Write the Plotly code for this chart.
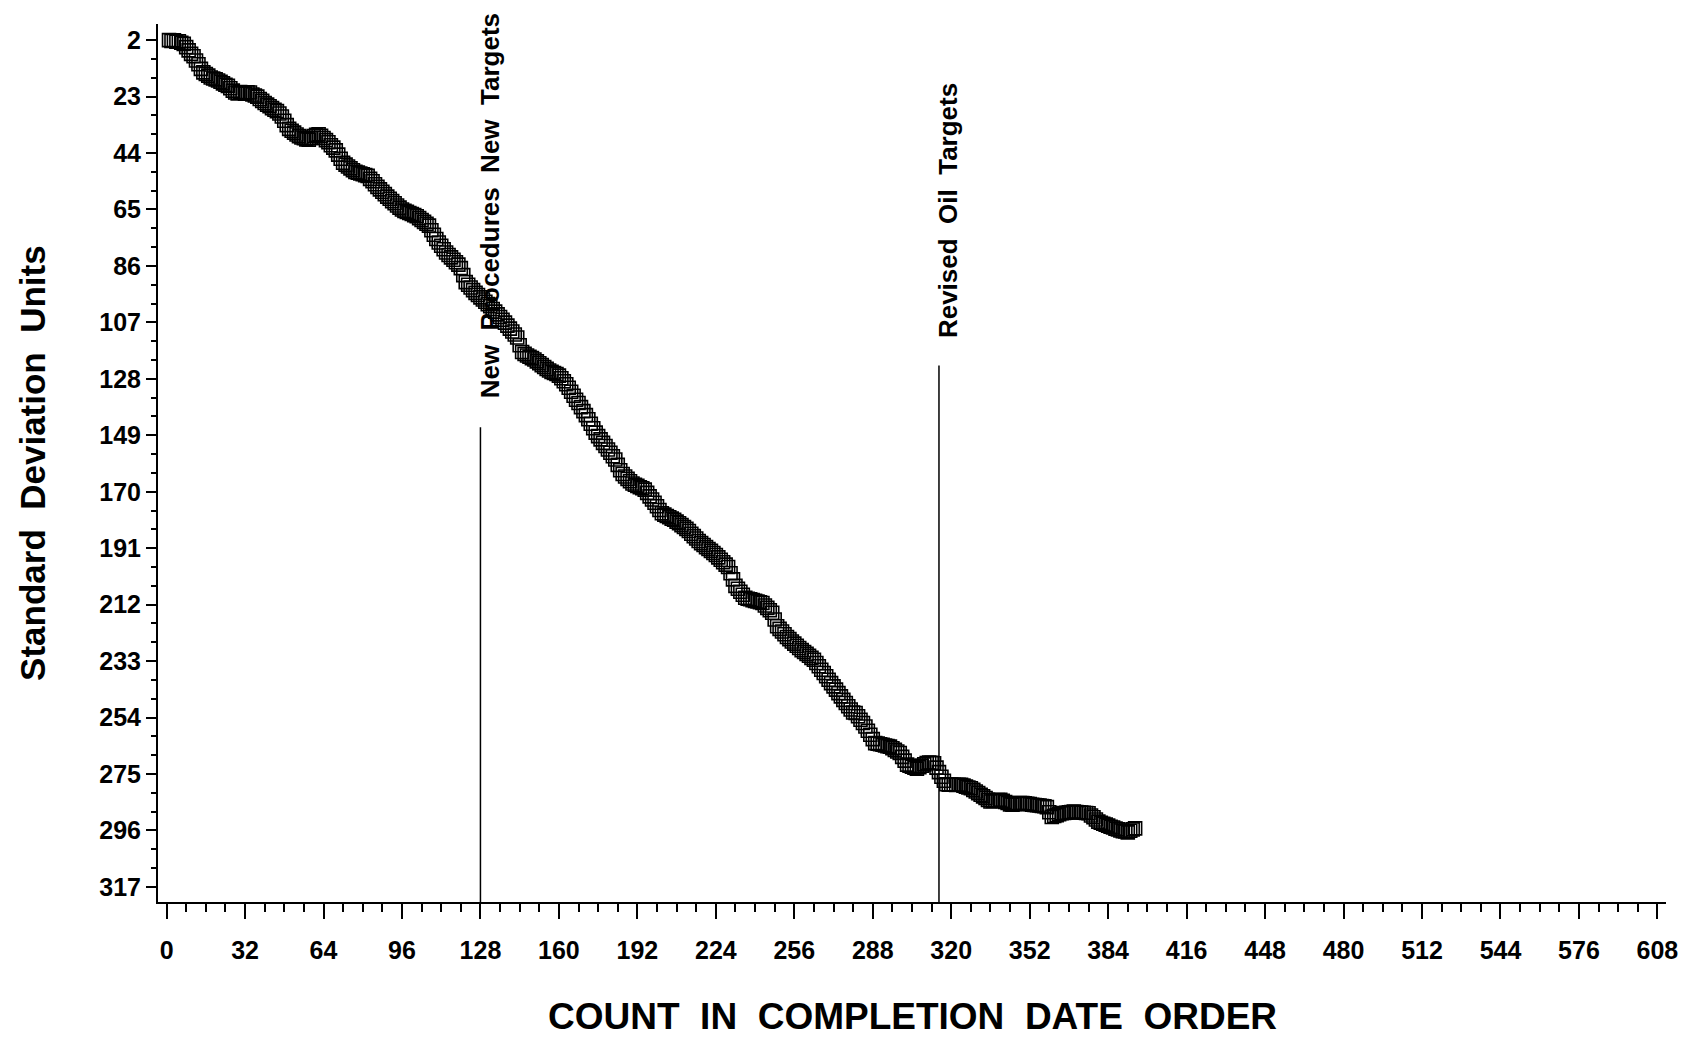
import plotly.graph_objects as go

# Standard deviation units (cumulative), count 1..395
seg_001_100 = [
    2.0, 2.3, 2.1, 2.6, 2.4, 3.0, 3.4, 4.6, 5.8, 7.1,
    8.0, 9.6, 11.0, 12.7, 14.0, 14.6, 15.2, 15.9, 16.3, 16.6,
    17.0, 17.5, 18.1, 18.6, 19.0, 19.9, 20.8, 21.5, 21.8, 21.3,
    21.6, 21.9, 21.4, 21.5, 22.2, 22.6, 23.0, 23.9, 24.6, 25.4,
    26.0, 26.6, 27.3, 27.9, 28.4, 29.3, 30.4, 32.0, 33.6, 35.0,
    35.7, 36.4, 37.1, 37.7, 38.2, 38.5, 38.9, 39.0, 38.4, 37.7,
    37.2, 37.0, 37.6, 38.4, 39.2, 40.0, 41.1, 42.0, 43.0, 44.6,
    46.1, 47.6, 48.3, 49.0, 49.7, 50.4, 51.0, 51.3, 51.6, 51.9,
    52.2, 52.5, 53.6, 54.5, 55.6, 56.6, 57.5, 58.4, 59.3, 60.2,
    61.0, 61.9, 62.7, 63.5, 64.3, 65.0, 65.5, 65.9, 66.3, 66.7,
]
seg_101_200 = [
    67.1, 67.5, 68.2, 68.9, 69.6, 70.3, 71.0, 72.7, 74.4, 76.0,
    77.3, 78.5, 79.8, 81.0, 81.9, 82.8, 83.7, 84.6, 85.5, 86.8,
    89.4, 92.0, 93.0, 94.0, 95.0, 96.0, 96.8, 97.7, 98.5, 99.3,
    100.2, 101.0, 102.0, 103.0, 104.0, 105.0, 106.0, 107.1, 108.2, 109.3,
    110.4, 111.5, 112.6, 115.5, 118.0, 118.7, 119.3, 119.8, 120.3, 120.8,
    121.5, 122.2, 122.9, 123.6, 124.3, 124.9, 125.4, 125.8, 126.2, 126.8,
    127.8, 128.9, 130.0, 131.3, 132.8, 134.3, 135.8, 137.0, 138.5, 140.0,
    141.5, 143.0, 144.7, 146.4, 148.0, 149.3, 150.5, 151.8, 153.0, 154.3,
    155.5, 156.8, 158.0, 160.0, 162.0, 163.4, 164.3, 165.2, 166.1, 166.9,
    167.4, 167.8, 168.3, 168.7, 169.2, 170.4, 171.7, 172.9, 174.1, 175.4,
]
seg_201_300 = [
    176.8, 178.0, 178.5, 179.0, 179.5, 180.0, 180.4, 181.1, 181.7, 182.4,
    183.1, 183.8, 184.6, 185.6, 186.5, 187.4, 188.3, 189.1, 189.8, 190.6,
    191.3, 192.0, 192.8, 193.5, 194.4, 195.3, 196.2, 197.1, 198.0, 200.3,
    202.6, 205.0, 206.1, 207.2, 208.3, 209.4, 209.8, 210.0, 210.3, 210.6,
    210.8, 211.1, 211.4, 212.3, 213.2, 214.1, 215.0, 217.5, 220.0, 221.0,
    222.0, 223.0, 224.0, 224.8, 225.7, 226.5, 227.3, 228.1, 228.9, 229.6,
    230.3, 231.0, 231.8, 232.5, 233.7, 234.9, 236.2, 237.4, 238.6, 239.9,
    241.2, 242.4, 243.6, 244.9, 246.1, 247.4, 248.6, 249.8, 251.0, 252.1,
    252.3, 253.5, 254.8, 256.0, 257.3, 258.9, 260.4, 262.0, 263.5, 263.7,
    263.9, 264.1, 264.4, 264.6, 264.8, 265.4, 266.0, 266.6, 267.2, 268.6,
]
seg_301_395 = [
    270.0, 271.5, 271.9, 272.3, 272.6, 273.0, 272.5, 271.9, 271.4, 270.9,
    270.7, 270.8, 271.0, 272.6, 274.3, 276.0, 277.5, 278.8, 279.0, 278.9,
    279.0, 279.1, 279.0, 279.0, 279.3, 279.7, 280.0, 280.3, 280.9, 281.5,
    282.1, 282.7, 283.3, 283.9, 284.6, 285.2, 285.0, 284.9, 284.7, 284.6,
    285.0, 285.4, 285.8, 286.3, 286.4, 286.2, 286.0, 285.8, 285.8, 285.9,
    286.1, 286.2, 286.4, 286.5, 286.6, 286.7, 286.9, 287.0, 287.3, 289.2,
    291.0, 290.6, 290.3, 289.9, 289.6, 289.5, 289.4, 289.2, 289.1, 289.0,
    289.1, 289.2, 289.3, 289.4, 289.5, 289.6, 290.4, 291.1, 291.9, 292.7,
    293.1, 293.5, 293.8, 294.2, 294.6, 294.9, 295.3, 295.6, 296.0, 296.3,
    296.4, 296.7, 296.1, 295.6, 295.2,
]
sd_units = seg_001_100 + seg_101_200 + seg_201_300 + seg_301_395
counts = list(range(1, len(sd_units) + 1))

# Event reference lines: (count, top of line in SD units, label, label bottom)
event_x = [128, 315]
event_top = [146, 123]
event_label = ["New  Procedures  New  Targets", "Revised  Oil  Targets"]
event_label_bottom = [136, 113.4]

x_ticks = list(range(0, 609, 32))
y_ticks = list(range(2, 318, 21))

FONT = "Liberation Sans, Arial, Helvetica, sans-serif"

fig = go.Figure()
fig.add_trace(go.Scatter(
    x=counts, y=sd_units, mode="markers",
    marker=dict(symbol="square-open", size=13, color="black",
                line=dict(width=1.6, color="black")),
    showlegend=False,
))

for xv, top, lab, lb in zip(event_x, event_top, event_label, event_label_bottom):
    fig.add_shape(type="line", x0=xv, x1=xv, y0=top, y1=322.6,
                  xref="x", yref="y", line=dict(color="black", width=1.5))
    fig.add_annotation(x=xv, y=lb, xref="x", yref="y", text=lab,
                       showarrow=False, textangle=-90, xanchor="center",
                       yanchor="bottom", xshift=9,
                       font=dict(family=FONT, size=26, color="black", weight="bold"))

# axis titles
fig.add_annotation(x=0.5, y=-0.1305, xref="paper", yref="paper",
                   text="COUNT  IN  COMPLETION  DATE  ORDER", showarrow=False,
                   xanchor="center", yanchor="middle",
                   font=dict(family=FONT, size=37, color="black", weight="bold"))
fig.add_annotation(x=-0.0836, y=0.5, xref="paper", yref="paper",
                   text="Standard  Deviation  Units", showarrow=False, textangle=-90,
                   xanchor="center", yanchor="middle",
                   font=dict(family=FONT, size=35, color="black", weight="bold"))

fig.update_layout(
    width=1688, height=1040,
    margin=dict(l=158, r=22, t=24, b=138),
    paper_bgcolor="white", plot_bgcolor="white",
    font=dict(family=FONT, color="black"),
)
fig.update_xaxes(
    range=[-3.5, 611.5], tickvals=x_ticks, ticktext=[str(v) for v in x_ticks],
    ticks="outside", ticklen=15, tickwidth=2, tickcolor="black",
    minor=dict(ticks="outside", ticklen=8, tickwidth=2, tickcolor="black", dtick=8, tick0=0),
    showline=True, linecolor="black", linewidth=2, showgrid=False, zeroline=False,
    tickfont=dict(family=FONT, size=25, color="black", weight="bold"), ticklabelstandoff=10,
    automargin=False,
)
fig.update_yaxes(
    range=[322.6, -4], tickvals=y_ticks, ticktext=[str(v) for v in y_ticks],
    ticks="outside", ticklen=10, tickwidth=2, tickcolor="black",
    minor=dict(ticks="outside", ticklen=5, tickwidth=2, tickcolor="black", dtick=7, tick0=2),
    showline=True, linecolor="black", linewidth=2, showgrid=False, zeroline=False,
    tickfont=dict(family=FONT, size=25, color="black", weight="bold"),
    automargin=False,
)

fig.write_html(
    "out.html",
    config={"displayModeBar": False},
    post_script="document.body.style.margin='0';document.body.style.overflow='hidden';",
)
